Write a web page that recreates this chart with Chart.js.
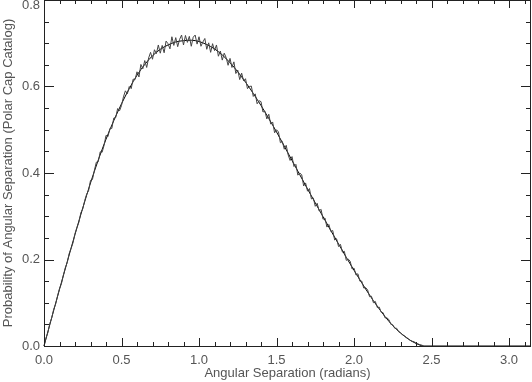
<!DOCTYPE html>
<html>
<head>
<meta charset="utf-8">
<script src="https://cdn.jsdelivr.net/npm/chart.js@4.4.0/dist/chart.umd.min.js"></script>
<style>
body { margin: 0; background: #fff; }
#wrap { width: 532px; height: 382px; }
</style>
</head>
<body>
<div id="wrap"><canvas id="sepChart" width="532" height="382"></canvas></div>
<script>
// model curve, every 0.05 rad (flat zero after 2.45)
const smoothSep = [0, 0.05, 0.10, 0.15, 0.20, 0.25, 0.30, 0.35, 0.40, 0.45,
    0.50, 0.55, 0.60, 0.65, 0.70, 0.75, 0.80, 0.85, 0.90, 0.95,
    1.00, 1.05, 1.10, 1.15, 1.20, 1.25, 1.30, 1.35, 1.40, 1.45,
    1.50, 1.55, 1.60, 1.65, 1.70, 1.75, 1.80, 1.85, 1.90, 1.95,
    2.00, 2.05, 2.10, 2.15, 2.20, 2.25, 2.30, 2.35, 2.40, 2.45,
    2.60, 2.80, 3.00, 3.1416];
const smoothProb = [0, 0.066, 0.131, 0.195, 0.258, 0.319, 0.377, 0.430, 0.478, 0.521,
    0.560, 0.595, 0.626, 0.651, 0.671, 0.686, 0.696, 0.703, 0.706, 0.707,
    0.704, 0.697, 0.687, 0.673, 0.655, 0.634, 0.610, 0.584, 0.556, 0.526,
    0.495, 0.462, 0.429, 0.396, 0.363, 0.331, 0.299, 0.267, 0.236, 0.205,
    0.175, 0.146, 0.118, 0.092, 0.068, 0.047, 0.030, 0.016, 0.006, 0,
    0, 0, 0, 0];

// catalog histogram, one bin every 0.0125 rad from 0
const binStep = 0.0125;
const histProb = [
    0.000, 0.018, 0.031, 0.052, 0.065, 0.085, 0.097, 0.116,
    0.133, 0.144, 0.164, 0.181, 0.193, 0.214, 0.226, 0.239,
    0.260, 0.274, 0.286, 0.308, 0.317, 0.336, 0.351, 0.359,
    0.383, 0.385, 0.406, 0.425, 0.426, 0.449, 0.448, 0.464,
    0.487, 0.484, 0.503, 0.503, 0.527, 0.528, 0.549, 0.544,
    0.556, 0.576, 0.590, 0.583, 0.600, 0.595, 0.617, 0.616,
    0.634, 0.622, 0.651, 0.641, 0.660, 0.644, 0.666, 0.679,
    0.663, 0.685, 0.676, 0.696, 0.677, 0.695, 0.678, 0.705,
    0.699, 0.687, 0.715, 0.695, 0.713, 0.692, 0.709, 0.719,
    0.696, 0.718, 0.702, 0.716, 0.693, 0.714, 0.719, 0.698,
    0.715, 0.693, 0.703, 0.711, 0.686, 0.701, 0.679, 0.699,
    0.683, 0.696, 0.670, 0.682, 0.661, 0.677, 0.667, 0.649,
    0.665, 0.644, 0.657, 0.630, 0.638, 0.616, 0.631, 0.613,
    0.618, 0.595, 0.600, 0.601, 0.577, 0.583, 0.560, 0.567,
    0.565, 0.541, 0.543, 0.525, 0.536, 0.513, 0.518, 0.493,
    0.500, 0.495, 0.470, 0.473, 0.455, 0.464, 0.442, 0.429,
    0.438, 0.415, 0.420, 0.395, 0.400, 0.396, 0.370, 0.377,
    0.358, 0.364, 0.340, 0.342, 0.323, 0.330, 0.312, 0.316,
    0.293, 0.296, 0.275, 0.281, 0.265, 0.267, 0.245, 0.248,
    0.230, 0.235, 0.217, 0.219, 0.198, 0.201, 0.196, 0.178,
    0.180, 0.164, 0.167, 0.150, 0.150, 0.134, 0.135, 0.130,
    0.114, 0.115, 0.100, 0.103, 0.089, 0.090, 0.078, 0.077,
    0.065, 0.065, 0.061, 0.050, 0.049, 0.041, 0.041, 0.033,
    0.031, 0.026, 0.024, 0.020, 0.017, 0.013, 0.011, 0.010,
    0.006, 0.005, 0.003, 0.002, 0.000
];

const xMajor = [0, 0.5, 1.0, 1.5, 2.0, 2.5, 3.0];
const yMajor = [0, 0.2, 0.4, 0.6, 0.8];
const xMinorStep = 0.1;
const yMinorStep = 0.05;

const textColor = '#555';
const textFont = { family: 'Liberation Sans', size: 13 };

// IDL style box with inward ticks on all four sides
const idlFrame = {
    id: 'idlFrame',
    afterDatasetsDraw(chart) {
        const { ctx, chartArea: a, scales: { x, y } } = chart;
        ctx.save();
        ctx.strokeStyle = '#222';
        ctx.lineWidth = 1;
        ctx.beginPath();
        for (let i = 0; i * xMinorStep <= x.max + 1e-9; i++) {
            const px = Math.round(x.getPixelForValue(i * xMinorStep)) + 0.5;
            const len = i % 5 === 0 ? 8 : 4;
            ctx.moveTo(px, a.bottom); ctx.lineTo(px, a.bottom - len);
            ctx.moveTo(px, a.top); ctx.lineTo(px, a.top + len);
        }
        for (let i = 0; i * yMinorStep <= y.max + 1e-9; i++) {
            const py = Math.round(y.getPixelForValue(i * yMinorStep)) + 0.5;
            const len = i % 4 === 0 ? 10 : 5;
            ctx.moveTo(a.left, py); ctx.lineTo(a.left + len, py);
            ctx.moveTo(a.right, py); ctx.lineTo(a.right - len, py);
        }
        ctx.stroke();
        ctx.strokeRect(Math.round(a.left) + 0.5, Math.round(a.top) + 0.5,
            Math.round(a.right - a.left) - 1, Math.round(a.bottom - a.top));
        ctx.restore();
    }
};

new Chart(document.getElementById('sepChart'), {
    type: 'line',
    data: {
        datasets: [{
            label: 'catalog',
            data: histProb.map((p, i) => ({ x: i * binStep, y: p })),
            borderColor: '#444',
            borderWidth: 1,
            pointRadius: 0,
            tension: 0,
            clip: 4
        }, {
            label: 'model',
            data: smoothSep.map((s, i) => ({ x: s, y: smoothProb[i] })),
            borderColor: '#000',
            borderWidth: 1,
            pointRadius: 0,
            cubicInterpolationMode: 'monotone',
            clip: 4
        }]
    },
    options: {
        responsive: false,
        animation: false,
        devicePixelRatio: 1,
        layout: { padding: { top: 0, right: 1, left: 0, bottom: 0 } },
        plugins: { legend: { display: false }, tooltip: { enabled: false } },
        scales: {
            x: {
                type: 'linear',
                min: 0,
                max: Math.PI,
                grid: { display: false, drawTicks: false },
                border: { display: false },
                afterBuildTicks: s => { s.ticks = xMajor.map(v => ({ value: v })); },
                ticks: {
                    autoSkip: false, maxRotation: 0, padding: 7,
                    color: textColor, font: textFont,
                    callback: v => v.toFixed(1)
                },
                title: {
                    display: true, text: 'Angular Separation (radians)',
                    color: textColor, font: textFont, padding: { top: 0, bottom: 1 }
                },
                afterFit: s => { s.height = 36; s.paddingLeft = 0; s.paddingRight = 0; }
            },
            y: {
                type: 'linear',
                min: 0,
                max: 0.8,
                grid: { display: false, drawTicks: false },
                border: { display: false },
                afterBuildTicks: s => { s.ticks = yMajor.map(v => ({ value: v })); },
                ticks: {
                    autoSkip: false, padding: 4,
                    color: textColor,
                    // the top label sits a little below its tick so it stays on the canvas
                    font: c => c.index === yMajor.length - 1 ? { ...textFont, lineHeight: 0.85 } : textFont,
                    callback: (v, i) => i === yMajor.length - 1 ? ['', v.toFixed(1)] : v.toFixed(1)
                },
                title: {
                    display: true, text: 'Probability of Angular Separation (Polar Cap Catalog)',
                    color: textColor, font: textFont, padding: { top: 1, bottom: 0 }
                },
                afterFit: s => { s.width = 44; s.paddingTop = 0; s.paddingBottom = 0; }
            }
        }
    },
    plugins: [idlFrame]
});
</script>
</body>
</html>
